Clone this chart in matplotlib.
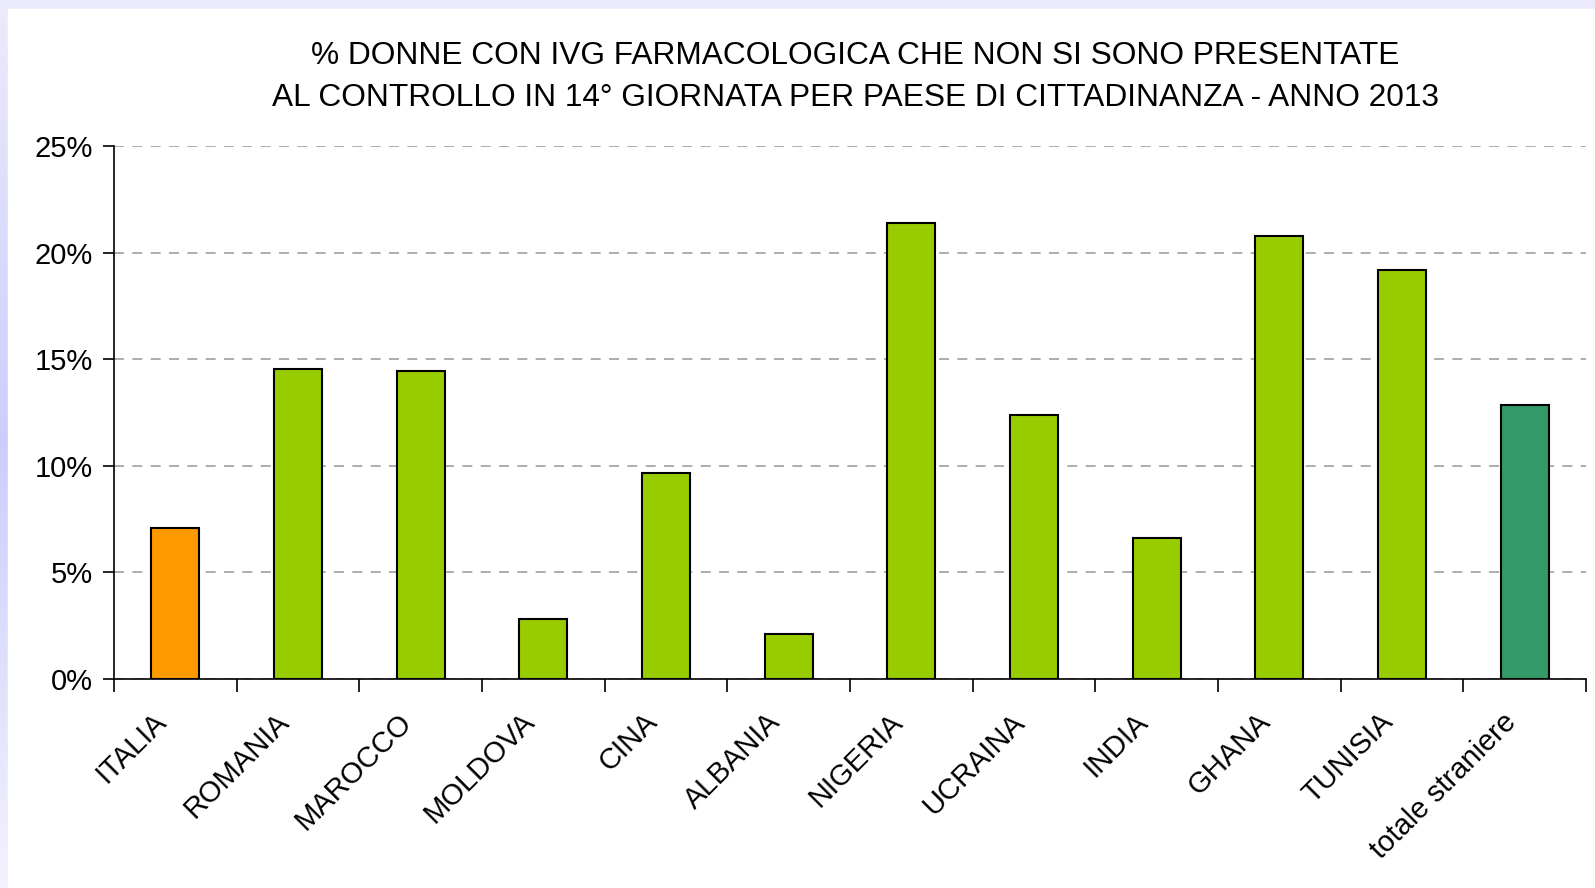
import numpy as np
import matplotlib
matplotlib.use("Agg")
import matplotlib.pyplot as plt
from matplotlib.ticker import FuncFormatter, FixedLocator
from matplotlib.patches import Rectangle
from matplotlib.transforms import ScaledTranslation

# data
paesi = ["ITALIA", "ROMANIA", "MAROCCO", "MOLDOVA", "CINA", "ALBANIA",
         "NIGERIA", "UCRAINA", "INDIA", "GHANA", "TUNISIA", "totale straniere"]
valori = [7.1, 14.55, 14.45, 2.8, 9.65, 2.1, 21.4, 12.4, 6.6, 20.8, 19.2, 12.85]
colori = ["#FF9900"] + ["#99CC00"] * 10 + ["#339966"]
y_ticks = [0, 5, 10, 15, 20, 25]

titolo = ("% DONNE CON IVG FARMACOLOGICA CHE NON SI SONO PRESENTATE\n"
          "AL CONTROLLO IN 14° GIORNATA PER PAESE DI CITTADINANZA - ANNO 2013")

plt.rcParams['font.family'] = ['Liberation Sans', 'DejaVu Sans']

W, H = 1595, 888
fig = plt.figure(figsize=(W / 100, H / 100), dpi=100)

# lavender frame: left strip darker in the middle, flat strip on top
bg = fig.add_axes([0, 0, 1, 1], zorder=-10)
grad = np.linspace(0, 1, 256).reshape(-1, 1)
lav = matplotlib.colors.LinearSegmentedColormap.from_list(
    "lav", ["#ecebfc", "#cdcdfb", "#f2f2fe"])
bg.imshow(grad, aspect='auto', extent=[0, 1, 0, 1], cmap=lav)
bg.add_patch(Rectangle((0, 1 - 9 / H), 1, 9 / H, color="#eaeafc"))
bg.add_patch(Rectangle((8 / W, 0), 1, 1 - 9 / H, color="white"))
bg.set_xlim(0, 1)
bg.set_ylim(0, 1)
bg.axis("off")

ax = fig.add_axes([114 / W, 1 - 679 / H, (1586 - 114) / W, (679 - 146) / H])
ax.set_facecolor("none")

x = np.arange(len(paesi))
ax.bar(x, valori, width=0.39, color=colori, edgecolor="black", linewidth=1.5, zorder=3)

ax.set_xlim(-0.5, len(paesi) - 0.5)
ax.set_ylim(0, 25)
ax.set_yticks(y_ticks)
ax.yaxis.set_major_formatter(FuncFormatter(lambda v, p: f"{v:.0f}%"))
ax.grid(axis="y", linestyle=(0, (6, 5)), color="#a0a0a0", linewidth=1.2, zorder=0)

# ticks at category boundaries, labels at centres
ax.xaxis.set_major_locator(FixedLocator(np.arange(-0.5, len(paesi), 1.0)))
ax.xaxis.set_major_formatter(FuncFormatter(lambda v, p: ""))
ax.xaxis.set_minor_locator(FixedLocator(x))
ax.set_xticklabels(paesi, minor=True, rotation=45, ha="right", va="top",
                   rotation_mode="anchor", fontsize=21)
ax.tick_params(axis="x", which="minor", length=0, pad=22)
ax.tick_params(axis="x", which="major", length=9, width=1.2, direction="out")
ax.tick_params(axis="y", length=8, width=1.2, direction="out", labelsize=21, pad=7)

# nudge the rotated labels left, as in the original
shift = ScaledTranslation(-23 / 100, 2 / 100, fig.dpi_scale_trans)
for lab in ax.get_xticklabels(minor=True):
    lab.set_transform(lab.get_transform() + shift)

for s in ["top", "right"]:
    ax.spines[s].set_visible(False)
for s in ["left", "bottom"]:
    ax.spines[s].set_linewidth(1.2)

fig.text(855 / W, 1 - 77 / H, titolo, ha="center", va="center",
         fontsize=22.8, linespacing=1.48)

fig.savefig("out.png", dpi=100)
